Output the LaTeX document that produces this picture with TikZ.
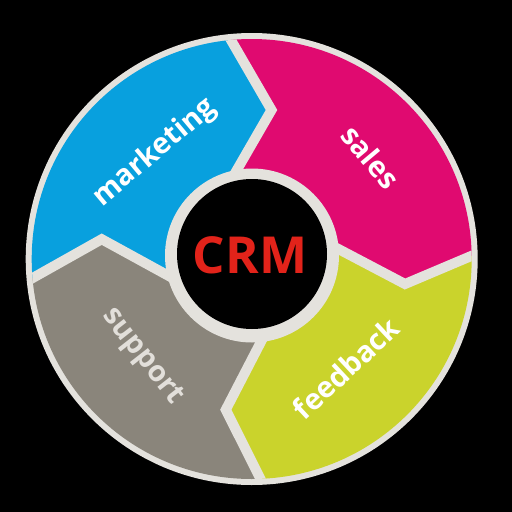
\documentclass[tikz,border=0pt]{standalone}
\usepackage{fontspec}
\setmainfont{Open Sans}
\definecolor{ringgray}{RGB}{228,226,221}
\definecolor{mkblue}{RGB}{8,160,222}
\definecolor{slmag}{RGB}{224,10,112}
\definecolor{fblime}{RGB}{202,211,44}
\definecolor{spgray}{RGB}{138,133,123}
\definecolor{sptext}{RGB}{226,223,218}
\definecolor{crmred}{RGB}{226,35,26}
\tikzset{
  sepline/.style={draw=ringgray, line width=10pt, miter limit=10, line join=miter},
  lbl/.style={font=\bfseries\fontsize{29}{29}\selectfont, text=white, inner sep=0pt},
}
\begin{document}
\begin{tikzpicture}[x=1pt,y=-1pt]
\useasboundingbox (0,0) rectangle (512,512);
\fill[black] (0,0) rectangle (512,512);
% key points
\coordinate (C) at (251.7,259);
\coordinate (O) at (252,256);
\coordinate (To) at (224,28);
\coordinate (Tt) at (271.5,110);
\coordinate (Ti) at (230.5,181);
\coordinate (Ri) at (327,243);
\coordinate (Rt) at (405,284);
\coordinate (Ro) at (483,251);
\coordinate (Bi) at (265,334);
\coordinate (Bt) at (225.8,409.7);
\coordinate (Bo) at (265,488);
\coordinate (Lo) at (22,284);
\coordinate (Lt) at (101.7,239.2);
\coordinate (Li) at (178,281);
% outer gray disk
\fill[ringgray] (C) circle (226pt);
\begin{scope}
\clip (C) circle (220pt);
\fill[mkblue] (Lo) -- (Lt) -- (Li) -- (O) -- (Ti) -- (Tt) -- (To) -- (200,-100) -- (-100,-100) -- (-100,300) -- cycle;
\fill[slmag] (To) -- (Tt) -- (Ti) -- (O) -- (Ri) -- (Rt) -- (Ro) -- (600,240) -- (600,-100) -- (200,-100) -- cycle;
\fill[fblime] (Ro) -- (Rt) -- (Ri) -- (O) -- (Bi) -- (Bt) -- (Bo) -- (270,600) -- (600,600) -- (600,240) -- cycle;
\fill[spgray] (Bo) -- (Bt) -- (Bi) -- (O) -- (Li) -- (Lt) -- (Lo) -- (-100,300) -- (-100,600) -- (270,600) -- cycle;
\draw[sepline] (To) -- (Tt) -- (Ti);
\draw[sepline] (Ri) -- (Rt) -- (Ro);
\draw[sepline] (Bi) -- (Bt) -- (Bo);
\draw[sepline] (Lo) -- (Lt) -- (Li);
\end{scope}
% center
\fill[ringgray] (252,255.5) circle (87pt);
\fill[black] (252,254) circle (75pt);
% labels
\node[lbl, rotate=40] (mk) at (155,153) {marketing};
\node[lbl, rotate=-50] (sl) at (371,157) {sales};
\node[lbl, rotate=43] (fb) at (346,368) {feedback};
\node[lbl, rotate=-52, text=sptext] (sp) at (142,357) {support};
\node[font=\bfseries\fontsize{51}{51}\selectfont, text=crmred, inner sep=0pt] (crm) at (250,255) {CRM};
\end{tikzpicture}
\end{document}
